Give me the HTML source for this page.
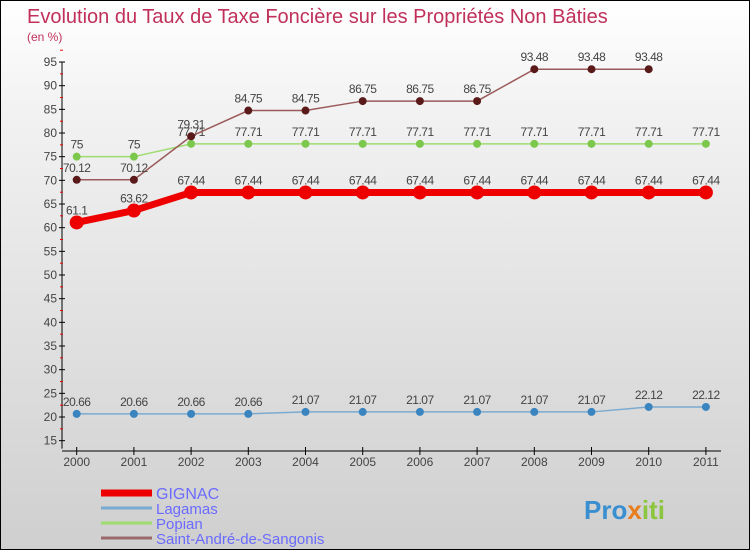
<!DOCTYPE html>
<html><head><meta charset="utf-8"><style>
body{margin:0;}
#c{width:748px;height:548px;border:1px solid #000;background:linear-gradient(#fff,#f2f2f2 20%,#cfcfcf);position:relative;overflow:hidden;font-family:"Liberation Sans",sans-serif;}
</style></head><body>
<div id="c">
<svg id="s" width="748" height="548" xmlns="http://www.w3.org/2000/svg">
<text x="26" y="22" font-size="20" fill="#c0305a">Evolution du Taux de Taxe Foncière sur les Propriétés Non Bâties</text>
<text x="26" y="40" font-size="12" fill="#c0305a">(en %)</text>
<g id="axes"></g><g id="series"></g><g id="legend"></g>
<text x="583" y="518" font-size="26" font-weight="bold" fill="#3a8fd0">Pro<tspan fill="#e87d1e">x</tspan><tspan fill="#8cc63f">iti</tspan></text>
</svg></div>
<script>
const years=["2000","2001","2002","2003","2004","2005","2006","2007","2008","2009","2010","2011"];
const gignac=[61.1,63.62,67.44,67.44,67.44,67.44,67.44,67.44,67.44,67.44,67.44,67.44];
const lagamas=[20.66,20.66,20.66,20.66,21.07,21.07,21.07,21.07,21.07,21.07,22.12,22.12];
const popian=[75,75,77.71,77.71,77.71,77.71,77.71,77.71,77.71,77.71,77.71,77.71];
const saint=[70.12,70.12,79.31,84.75,84.75,86.75,86.75,86.75,93.48,93.48,93.48,null];
const yTicks=[15,20,25,30,35,40,45,50,55,60,65,70,75,80,85,90,95];
const NS="http://www.w3.org/2000/svg";
const X=i=>75.7+i*57.2, Y=v=>416-(v-20)*4.733;
function mk(p,t,a){const e=document.createElementNS(NS,t);for(const k in a)e.setAttribute(k,a[k]);p.appendChild(e);return e;}
const ax=document.getElementById('axes');
let yl=mk(ax,'line',{x1:61,y1:Y(95),x2:61,y2:Y(15)+8,stroke:'#000'});

yTicks.forEach(v=>{
 mk(ax,'line',{x1:58,x2:64,y1:Y(v),y2:Y(v),stroke:'#000'});
 mk(ax,'line',{x1:59,x2:62,y1:Y(v+2.5),y2:Y(v+2.5),stroke:'#e00'});
 const t=mk(ax,'text',{x:56,y:Y(v)+4,'font-size':12,'text-anchor':'end',fill:'#444'});t.textContent=v;
 
});
let xl=mk(ax,'line',{x1:61,y1:450,x2:720,y2:450,stroke:'#000'});

years.forEach((y,i)=>{
 mk(ax,'line',{x1:X(i),x2:X(i),y1:446,y2:454,stroke:'#000'});
 const t=mk(ax,'text',{x:X(i),y:465,'font-size':12,'text-anchor':'middle',fill:'#444'});t.textContent=y;
 
});
const sg=document.getElementById('series');
function draw(data,color,w,r,name,dec){
 const g=mk(sg,'g',{});
 let pts=[];data.forEach((v,i)=>{if(v!=null)pts.push(X(i)+','+Y(v));});
 mk(g,'polyline',{points:pts.join(' '),fill:'none',stroke:color,'stroke-width':w});
 data.forEach((v,i)=>{if(v==null)return;
  const c=mk(g,'circle',{cx:X(i),cy:Y(v),r:r,fill:dec});
  
  const t=mk(g,'text',{x:X(i),y:Y(v)-8,'font-size':12,'text-anchor':'middle',fill:'#444','letter-spacing':'-0.5'});t.textContent=String(v);
  
 });
}
draw(lagamas,'#7aaad0',1.5,4,'lagamas-series','#3a85c0');
draw(popian,'#9edc70',1.5,4,'popian-series','#7cc84c');
draw(saint,'#9a5a5a',1.5,4,'saint-andre-series','#5a1a1a');
draw(gignac,'#ee0000',7,7,'gignac-series','#ee0000');
const lg=document.getElementById('legend');
[['GIGNAC','#ee0000',7,25],['Lagamas','#7aaad0',3],['Popian','#9edc70',3],['Saint-André-de-Sangonis','#9a6a6a',3]].forEach((e,i)=>{
 const y=492+i*15;
 const l=mk(lg,'line',{x1:100,x2:151,y1:y,y2:y,stroke:e[1],'stroke-width':e[2]});
 
 const t=mk(lg,'text',{x:155,y:y+6,'font-size':i==0?16:15,fill:'#6a6aff'});t.textContent=e[0];
 
});
</script>
</body></html>
